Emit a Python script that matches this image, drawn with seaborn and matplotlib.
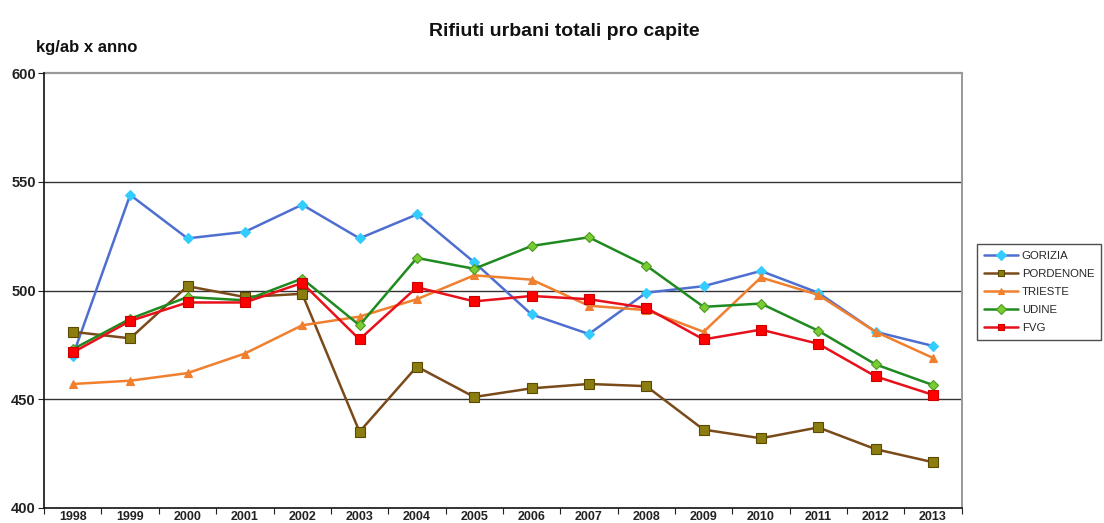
import matplotlib
matplotlib.use("Agg")
import matplotlib.pyplot as plt
import seaborn as sns
import pandas as pd
from matplotlib.ticker import FixedLocator

years = ["1998", "1999", "2000", "2001", "2002", "2003", "2004", "2005",
         "2006", "2007", "2008", "2009", "2010", "2011", "2012", "2013"]

gorizia = [470, 544, 524, 527, 539.5, 524, 535, 513, 489, 480, 499, 502, 509, 499, 481, 474.5]
pordenone = [481, 478, 502, 497, 498.5, 435, 465, 451, 455, 457, 456, 436, 432, 437, 427, 421]
trieste = [457, 458.5, 462, 471, 484, 488, 496, 507, 505, 493, 491, 481, 506, 498, 481, 469]
udine = [473, 487, 497, 495.5, 505.5, 484, 515, 510, 520.5, 524.5, 511.5, 492.5, 494, 481.5, 466, 456.5]
fvg = [471.5, 486, 494.5, 494.5, 503.5, 477.5, 501.5, 495, 497.5, 496, 492, 477.5, 482, 475.5, 460.5, 452]

series = {
    "GORIZIA": gorizia,
    "PORDENONE": pordenone,
    "TRIESTE": trieste,
    "UDINE": udine,
    "FVG": fvg,
}

# line colour, marker, marker face, marker edge, marker size
styles = {
    "GORIZIA": ("#4f6fd0", "D", "#33ccff", "#33ccff", 5),
    "PORDENONE": ("#7a4a1a", "s", "#8b7d10", "#5a4a00", 7),
    "TRIESTE": ("#f07f2e", "^", "#f07f2e", "#f07f2e", 6),
    "UDINE": ("#1f8a1f", "D", "#7acc33", "#4a9a20", 5),
    "FVG": ("#e8101a", "s", "#ff0000", "#cc0000", 7.5),
}

sns.set_theme(style="white")
plt.rcParams["font.family"] = ["Liberation Sans", "DejaVu Sans"]

fig = plt.figure(figsize=(11.04, 5.23), dpi=100)
ax = fig.add_axes([0.040, 0.029, 0.831, 0.831])

for name, vals in series.items():
    lc, mk, mf, me, ms = styles[name]
    df = pd.DataFrame({"anno": years, "valore": vals})
    sns.lineplot(data=df, x="anno", y="valore", ax=ax, color=lc, linewidth=1.8,
                 marker=mk, markersize=ms, markerfacecolor=mf, markeredgecolor=me,
                 markeredgewidth=0.8, label=name, sort=False)

ax.set_ylim(400, 600)
ax.set_xlim(-0.5, len(years) - 0.5)

# horizontal grid lines
for yv in [450, 500, 550]:
    ax.axhline(yv, color="#333333", linewidth=1.0, zorder=0)
ax.axhline(600, color="#999999", linewidth=1.6, zorder=0, clip_on=False)

ax.yaxis.set_major_locator(FixedLocator([400, 450, 500, 550, 600]))
ax.tick_params(axis="y", length=4, width=0.8, direction="out", colors="#222222",
               labelsize=10.5, pad=2, left=True)
for lbl in ax.get_yticklabels():
    lbl.set_fontweight("bold")

# year labels centered, tick marks at the boundaries between years
ax.set_xticks([i - 0.5 for i in range(len(years) + 1)])
ax.set_xticklabels([""] * (len(years) + 1))
ax.set_xticks(range(len(years)), minor=True)
ax.set_xticklabels(years, minor=True, fontsize=9, fontweight="bold", color="#222222")
ax.tick_params(axis="x", which="major", length=4, width=0.8, direction="out",
               colors="#222222", bottom=True)
ax.tick_params(axis="x", which="minor", length=0, pad=2)

ax.set_xlabel("")
ax.set_ylabel("")

for side in ["left", "bottom"]:
    ax.spines[side].set_color("#111111")
    ax.spines[side].set_linewidth(1.2)
ax.spines["right"].set_color("#999999")
ax.spines["right"].set_linewidth(1.4)
ax.spines["top"].set_visible(False)

fig.text(0.511, 0.940, "Rifiuti urbani totali pro capite", ha="center", va="center",
         fontsize=14, fontweight="bold", color="#111111")
fig.text(0.033, 0.910, "kg/ab x anno", ha="left", va="center",
         fontsize=12, fontweight="bold", color="#111111")

leg = ax.legend(loc="upper left", bbox_to_anchor=(975 / 1104, 1 - 242 / 523),
                bbox_transform=fig.transFigure, frameon=True,
                fontsize=8.2, handlelength=3.0, borderpad=0.6, labelspacing=0.7,
                borderaxespad=0.2, fancybox=False, edgecolor="#222222",
                handletextpad=0.3)
leg.get_frame().set_linewidth(1.0)
for h in leg.legend_handles:
    h.set_markersize(5)

fig.savefig("out.png", dpi=100)
